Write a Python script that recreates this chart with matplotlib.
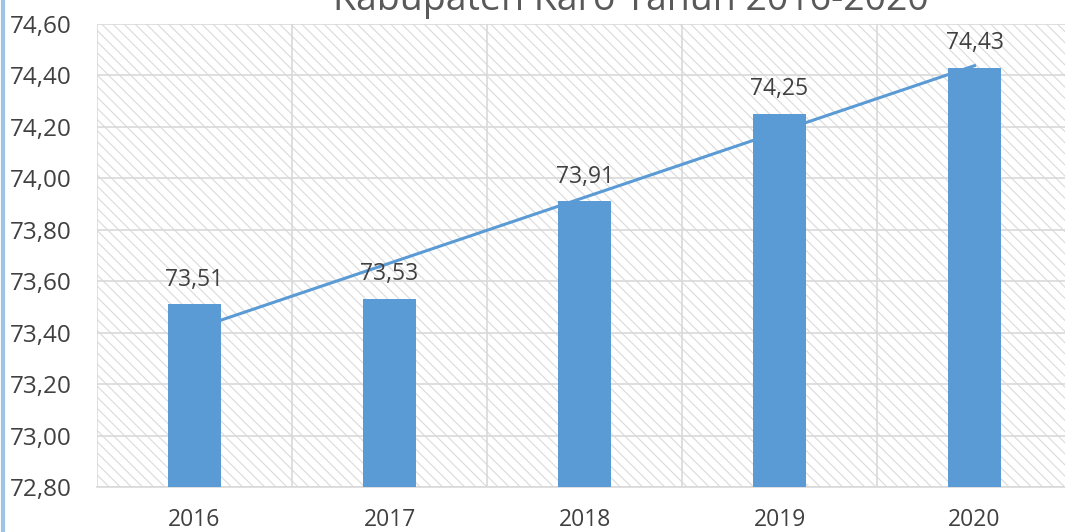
import numpy as np
import matplotlib
matplotlib.use("Agg")
import matplotlib.pyplot as plt
from matplotlib.patches import Rectangle
from matplotlib.lines import Line2D

years = ["2016", "2017", "2018", "2019", "2020"]
ipm = [73.51, 73.53, 73.91, 74.25, 74.43]
y_ticks = [72.80, 73.00, 73.20, 73.40, 73.60, 73.80, 74.00, 74.20, 74.40, 74.60]
title = "Kabupaten Karo Tahun 2016-2020"

bar_color = "#5B9BD5"
text_color = "#404040"
grid_color = "#D9D9D9"

plt.rcParams["font.family"] = ["Open Sans", "DejaVu Sans"]
plt.rcParams["hatch.linewidth"] = 0.8
plt.rcParams["hatch.color"] = "#DADADA"

fig = plt.figure(figsize=(10.65, 5.32), dpi=100)
ax = fig.add_axes([0.0911, 0.0846, 0.9155, 0.8703])

x = np.arange(len(years))

# hatched background of the plot area
bg = Rectangle((0, 0), 1, 1, transform=ax.transAxes, facecolor="white",
               edgecolor="#DADADA", hatch="\\\\\\", linewidth=0, zorder=0)
ax.add_patch(bg)

# linear trendline (behind the bars)
coef = np.polyfit(x, ipm, 1)
ax.plot(x, np.polyval(coef, x), color=bar_color, linewidth=2.2, zorder=2)

bars = ax.bar(x, ipm, width=0.27, color=bar_color, zorder=3, bottom=0)

for xi, v in zip(x, ipm):
    ax.text(xi, v + 0.05, f"{v:.2f}".replace(".", ","), ha="center", va="bottom",
            fontsize=16.5, color=text_color, zorder=4)

ax.set_xlim(-0.5, len(years) - 0.5)
ax.set_ylim(y_ticks[0], y_ticks[-1])
ax.set_yticks(y_ticks)
ax.set_yticklabels([f"{t:.2f}".replace(".", ",") for t in y_ticks])
ax.set_xticks(x)
ax.set_xticklabels(years)
ax.set_xticks(np.arange(len(years) + 1) - 0.5, minor=True)

ax.grid(True, axis="y", which="major", color=grid_color, linewidth=1.2, zorder=1)
ax.grid(True, axis="x", which="minor", color=grid_color, linewidth=1.2, zorder=1)
ax.set_axisbelow(True)

ax.tick_params(axis="both", which="both", length=0, labelcolor=text_color)
ax.tick_params(axis="x", labelsize=16.5, pad=15)
ax.tick_params(axis="y", labelsize=17.5, pad=18)

for side in ["top", "right", "left"]:
    ax.spines[side].set_visible(False)
ax.spines["bottom"].set_color(grid_color)
ax.spines["bottom"].set_linewidth(1.2)

fig.text(0.592, 0.981, title, ha="center", va="baseline", fontsize=27, color="#595959")

fig.add_artist(Line2D([0.003, 0.003], [0, 1], transform=fig.transFigure,
                      color="#9DC3E6", linewidth=3))

fig.savefig("out.png", dpi=100)
